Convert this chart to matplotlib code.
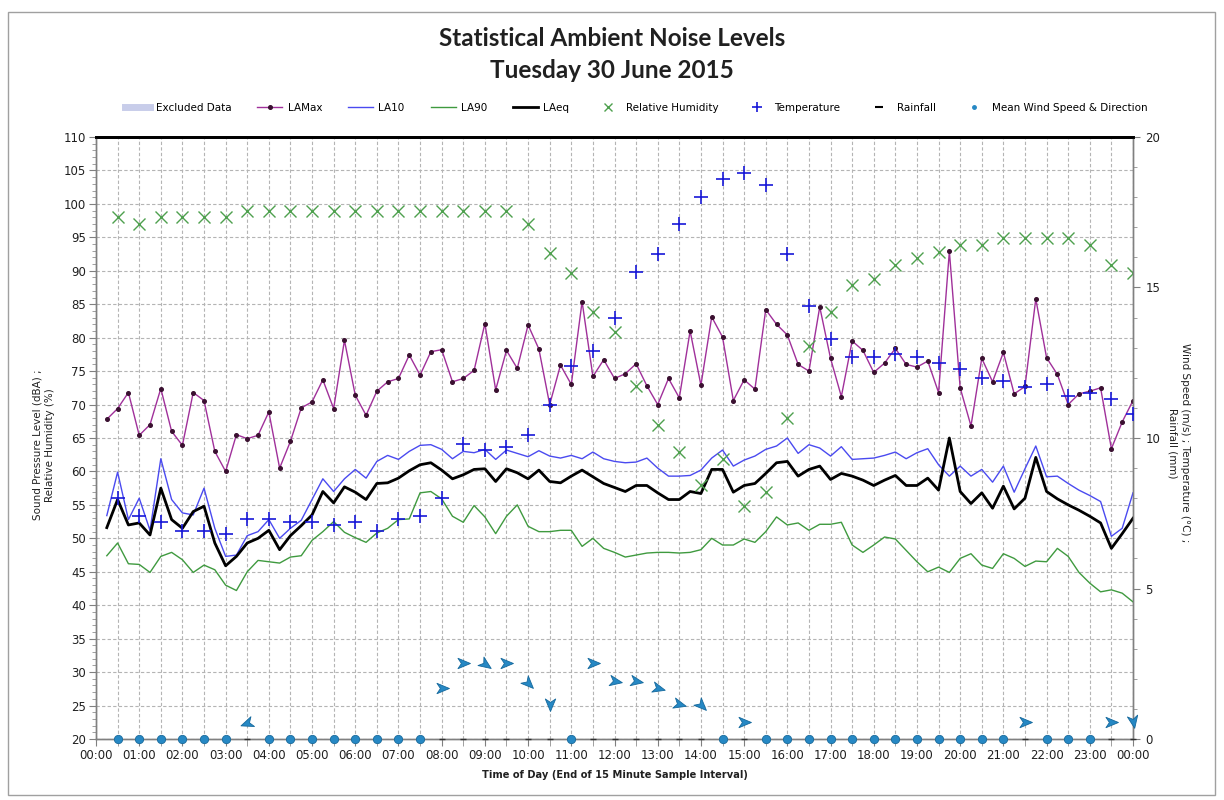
import matplotlib
matplotlib.use("Agg")
import matplotlib.pyplot as plt
import numpy as np
from matplotlib.lines import Line2D
from matplotlib.markers import MarkerStyle
from matplotlib.patches import Rectangle
from matplotlib.path import Path
from matplotlib.ticker import FuncFormatter, MultipleLocator
from matplotlib.transforms import Affine2D

# 15 minute statistics, end of interval 00:15 .. 24:00 (dBA)
LAMAX = [67.8, 69.4, 71.8, 65.4, 67.0, 72.4, 66.0, 63.9, 71.8, 70.6, 63.0, 60.0,
         65.5, 64.9, 65.4, 68.9, 60.5, 64.5, 69.5, 70.4, 73.7, 69.4, 79.6, 71.4,
         68.4, 72.0, 73.4, 73.9, 77.4, 74.4, 77.9, 78.2, 73.4, 73.9, 75.1, 82.1,
         72.2, 78.1, 75.4, 81.9, 78.3, 70.0, 75.9, 73.0, 85.4, 74.2, 76.7, 73.9,
         74.6, 76.1, 72.8, 70.0, 73.9, 71.0, 81.0, 72.9, 83.1, 80.1, 70.6, 73.7,
         72.3, 84.2, 82.0, 80.4, 76.0, 75.0, 84.6, 76.9, 71.2, 79.5, 78.1, 74.8,
         76.2, 78.4, 76.0, 75.6, 76.5, 71.8, 92.9, 72.5, 66.8, 76.9, 73.4, 77.8,
         71.6, 72.7, 85.8, 77.0, 74.5, 70.0, 71.6, 72.0, 72.5, 63.4, 67.4, 70.6]
LA10 = [53.4, 59.9, 52.8, 56.0, 51.2, 61.9, 55.8, 53.8, 53.5, 57.5, 51.5, 47.3,
        47.5, 50.4, 51.0, 52.8, 50.0, 51.5, 52.7, 55.8, 58.9, 57.0, 58.9, 60.3,
        59.0, 61.5, 62.4, 61.8, 63.0, 63.9, 64.0, 63.3, 61.9, 63.0, 62.8, 63.3,
        61.8, 63.2, 62.7, 62.2, 63.1, 62.3, 62.0, 62.4, 61.9, 62.9, 61.9, 61.5,
        61.3, 61.4, 62.0, 60.5, 59.3, 59.3, 59.4, 60.2, 62.0, 63.2, 60.8, 61.7,
        62.3, 63.3, 63.8, 65.0, 62.7, 64.0, 63.5, 62.3, 63.7, 61.8, 61.9, 62.0,
        62.4, 62.9, 61.9, 62.8, 63.4, 61.0, 59.3, 60.8, 59.3, 60.3, 58.4, 60.8,
        56.9, 60.4, 63.8, 59.2, 59.3, 58.2, 57.2, 56.4, 55.5, 50.3, 51.5, 56.8]
LA90 = [47.4, 49.3, 46.2, 46.1, 44.9, 47.3, 47.9, 46.8, 44.9, 46.0, 45.3, 43.0,
        42.2, 45.0, 46.7, 46.5, 46.3, 47.2, 47.4, 49.7, 51.0, 52.5, 50.9, 50.1,
        49.4, 50.8, 51.5, 52.8, 52.9, 56.8, 57.0, 55.9, 53.3, 52.4, 54.9, 53.2,
        50.7, 53.3, 55.0, 51.8, 51.0, 51.0, 51.2, 51.2, 48.8, 50.0, 48.5, 47.9,
        47.2, 47.5, 47.8, 47.9, 47.9, 47.8, 47.9, 48.3, 50.0, 49.0, 49.0, 49.9,
        49.4, 51.0, 53.2, 52.0, 52.3, 51.2, 52.1, 52.1, 52.4, 49.0, 47.9, 49.0,
        50.2, 49.9, 48.2, 46.5, 45.0, 45.7, 44.9, 47.0, 47.7, 46.0, 45.5, 47.7,
        47.0, 45.8, 46.6, 46.5, 48.5, 47.3, 44.9, 43.3, 42.0, 42.3, 41.8, 40.5]
LAEQ = [51.6, 55.8, 52.0, 52.3, 50.5, 57.5, 52.8, 51.5, 54.0, 54.8, 49.3, 45.9,
        47.3, 49.3, 50.0, 51.2, 48.3, 50.4, 51.9, 53.5, 57.0, 55.3, 57.7, 56.9,
        55.8, 58.2, 58.3, 59.0, 60.1, 61.0, 61.3, 60.2, 58.9, 59.5, 60.3, 60.4,
        58.5, 60.4, 59.8, 58.9, 60.2, 58.5, 58.3, 59.3, 60.2, 59.2, 58.2, 57.6,
        57.0, 57.9, 57.9, 56.8, 55.8, 55.8, 57.0, 56.7, 60.3, 60.3, 56.9, 57.9,
        58.2, 59.7, 61.3, 61.5, 59.3, 60.3, 60.8, 58.8, 59.7, 59.3, 58.7, 57.9,
        58.7, 59.4, 57.9, 57.9, 59.0, 57.2, 65.0, 57.0, 55.2, 56.8, 54.5, 57.8,
        54.4, 56.0, 62.1, 57.0, 55.9, 55.0, 54.2, 53.3, 52.3, 48.5, 50.7, 53.0]

# half-hourly weather, 00:30 .. 24:00
HUMIDITY = [98, 97, 98, 98, 98, 98, 99, 99, 99, 99, 99, 99,
            99, 99, 99, 99, 99, 99, 99, 97, 92.7, 89.7, 83.9, 80.8,
            72.8, 67.0, 62.9, 57.9, 61.8, 54.9, 57.0, 68.0, 78.8, 83.9, 87.9, 88.8,
            90.8, 91.9, 92.8, 93.9, 93.9, 94.9, 94.9, 94.9, 94.9, 93.9, 90.8, 89.7]
TEMPERATURE = [8.0, 7.4, 7.2, 6.9, 6.9, 6.8, 7.3, 7.3, 7.2, 7.2, 7.1, 7.2,
               6.9, 7.3, 7.4, 8.0, 9.8, 9.6, 9.7, 10.1, 11.1, 12.4, 12.9, 14.0,
               15.5, 16.1, 17.1, 18.0, 18.6, 18.8, 18.4, 16.1, 14.4, 13.3, 12.7, 12.7,
               12.8, 12.7, 12.5, 12.3, 12.0, 11.9, 11.7, 11.8, 11.4, 11.5, 11.3, 10.8]
RAINFALL = [0, 0, 0, 0, 0, 0, 0, 0, 0, 0, 0, 0,
            0, 0, 0, 0, 0, 0, 0, 0, 0, 0, 0, 0,
            0, 0, 0, 0, 0, 0, 0, 0, 0, 0, 0, 0,
            0, 0, 0, 0, 0, 0, 0, 0, 0, 0, 0, 0]
WIND_SPEED = [0, 0, 0, 0, 0, 0, 0.54, 0, 0, 0, 0, 0,
              0, 0, 0, 1.68, 2.53, 2.49, 2.53, 1.87, 1.16, 0, 2.53, 1.94,
              1.94, 1.68, 1.16, 1.13, 0, 0.58, 0, 0, 0, 0, 0, 0,
              0, 0, 0, 0, 0, 0, 0.58, 0, 0, 0, 0.58, 0.6]
# direction the arrow points (degrees, counter-clockwise from east)
WIND_ANGLE = [0, 0, 0, 0, 0, 0, 200, 0, 0, 0, 0, 0,
              0, 0, 0, 0, 0, -35, 0, -45, -90, 0, 0, -10,
              -10, -15, -15, -45, 0, 0, 0, 0, 0, 0, 0, 0,
              0, 0, 0, 0, 0, 0, 0, 0, 0, 0, 0, -80]

t15 = np.arange(1, len(LAMAX) + 1) * 0.25
t30 = np.arange(1, len(HUMIDITY) + 1) * 0.5

TICK_FONT = 8.5
SMALL_FONT = 7.5
WIND_COLOR = "#2688c4"

plt.rcParams["font.family"] = ["DejaVu Sans"]

fig = plt.figure(figsize=(12.24, 8.0), dpi=100)
fig.patches.append(Rectangle((8 / 1224, 5 / 800), 1207 / 1224, 783 / 800,
                             transform=fig.transFigure, fill=False,
                             edgecolor="#a0a0a0", linewidth=1.0))

ax = fig.add_axes([96 / 1224, 61 / 800, 1037 / 1224, 602 / 800])
ax2 = ax.twinx()

ax.plot(t15, LAMAX, color="#a0309a", lw=1.0, marker="o", ms=2.6,
        mfc="#3a1030", mec="#3a1030", zorder=4)
ax.plot(t15, LA10, color="#4a4af0", lw=1.0, zorder=4)
ax.plot(t15, LA90, color="#3f9a3f", lw=1.0, zorder=4)
ax.plot(t15, LAEQ, color="black", lw=2.0, zorder=5)
ax.plot(t30, HUMIDITY, ls="none", marker="x", ms=8, mew=1.0,
        color="#4ea04e", zorder=6)

ax2.plot(t30, TEMPERATURE, ls="none", marker="+", ms=10, mew=1.2,
         color="#1818d8", zorder=6)
ax2.plot(t30, RAINFALL, ls="none", marker="_", ms=5, mew=1.0,
         color="#303030", clip_on=False, zorder=5)

arrow = Path([(1.0, 0.0), (-0.8, 0.75), (-0.3, 0.0), (-0.8, -0.75), (1.0, 0.0)],
             [Path.MOVETO, Path.LINETO, Path.LINETO, Path.LINETO, Path.CLOSEPOLY])
for t, s, a in zip(t30, WIND_SPEED, WIND_ANGLE):
    if s > 0:
        m = MarkerStyle(arrow, transform=Affine2D().rotate_deg(a))
        ax2.plot([t], [s], ls="none", marker=m, ms=10, color=WIND_COLOR,
                 mec="#14689c", mew=0.6, clip_on=False, zorder=7)
calm = [t for t, s in zip(t30, WIND_SPEED) if s == 0]
ax2.plot(calm, [0] * len(calm), ls="none", marker="o", ms=6,
         color=WIND_COLOR, mec="#1a6a9a", mew=0.6, clip_on=False, zorder=7)

# axes and grid
ax.set_xlim(0, 24)
ax.set_ylim(20, 110)
ax2.set_ylim(0, 20)
ax.xaxis.set_major_locator(MultipleLocator(1))
ax.xaxis.set_minor_locator(MultipleLocator(0.5))
ax.xaxis.set_major_formatter(FuncFormatter(lambda v, p: f"{int(round(v)) % 24:02d}:00"))
ax.yaxis.set_major_locator(MultipleLocator(5))
ax.yaxis.set_minor_locator(MultipleLocator(1))
ax2.yaxis.set_major_locator(MultipleLocator(5))
ax2.yaxis.set_minor_locator(MultipleLocator(1))

grid_kw = dict(color="#b4b4b4", linestyle=(0, (3, 2)), linewidth=0.8)
ax.grid(True, which="both", axis="x", **grid_kw)
ax.grid(True, which="major", axis="y", **grid_kw)
ax.set_axisbelow(True)

ax.tick_params(axis="both", which="major", labelsize=TICK_FONT, length=5,
               color="#808080", labelcolor="#202020", pad=2)
ax.tick_params(axis="y", which="minor", length=3, color="#909090")
ax.tick_params(axis="x", which="minor", length=5, color="#909090")
ax2.tick_params(axis="y", which="major", labelsize=TICK_FONT, length=5,
                color="#808080", labelcolor="#202020", pad=4)
ax2.tick_params(axis="y", which="minor", length=3, color="#909090")

for a in (ax, ax2):
    for side in ("left", "right", "bottom"):
        a.spines[side].set_color("#808080")
        a.spines[side].set_linewidth(1.0)
    a.spines["top"].set_color("black")
    a.spines["top"].set_linewidth(2.0)

ax.set_xlabel("Time of Day (End of 15 Minute Sample Interval)",
              fontsize=7.1, fontweight="bold", color="#202020", labelpad=6)
fig.text(44 / 1224, 1 - 445 / 800, "Sound Pressure Level (dBA) ;\nRelative Humidity (%)",
         rotation=90, ha="center", va="center", fontsize=SMALL_FONT,
         color="#202020", linespacing=1.3)
fig.text(1179 / 1224, 1 - 443 / 800, "Wind Speed (m/s) ; Temperature (°C) ;\nRainfall (mm)",
         rotation=270, ha="center", va="center", fontsize=SMALL_FONT,
         color="#202020", linespacing=1.3)

fig.text(0.5, 1 - 38 / 800, "Statistical Ambient Noise Levels",
         ha="center", va="center", fontsize=17.5, fontweight="bold",
         family=["Lato", "DejaVu Sans"], color="#202020")
fig.text(0.5, 1 - 70 / 800, "Tuesday 30 June 2015",
         ha="center", va="center", fontsize=17.5, fontweight="bold",
         family=["Lato", "DejaVu Sans"], color="#202020")

handles = [
    Line2D([], [], color="#c8cdea", lw=5),
    Line2D([], [], color="#a0309a", lw=1.0, marker="o", ms=2.6,
           mfc="#3a1030", mec="#3a1030"),
    Line2D([], [], color="#4a4af0", lw=1.0),
    Line2D([], [], color="#3f9a3f", lw=1.0),
    Line2D([], [], color="black", lw=2.0),
    Line2D([], [], ls="none", marker="x", ms=6, color="#4ea04e"),
    Line2D([], [], ls="none", marker="+", ms=7, mew=1.2, color="#1818d8"),
    Line2D([], [], ls="none", marker="_", ms=6, mew=1.5, color="black"),
    Line2D([], [], ls="none", marker="o", ms=2.5, color=WIND_COLOR),
]
labels = ["Excluded Data", "LAMax", "LA10", "LA90", "LAeq", "Relative Humidity",
          "Temperature", "Rainfall", "Mean Wind Speed & Direction"]
fig.legend(handles, labels, loc="center", bbox_to_anchor=(0.52, 1 - 108 / 800),
           ncol=9, frameon=False, fontsize=SMALL_FONT, handlelength=2.4,
           handletextpad=0.5, columnspacing=2.5, borderpad=0)

fig.savefig("out.png", dpi=100)
